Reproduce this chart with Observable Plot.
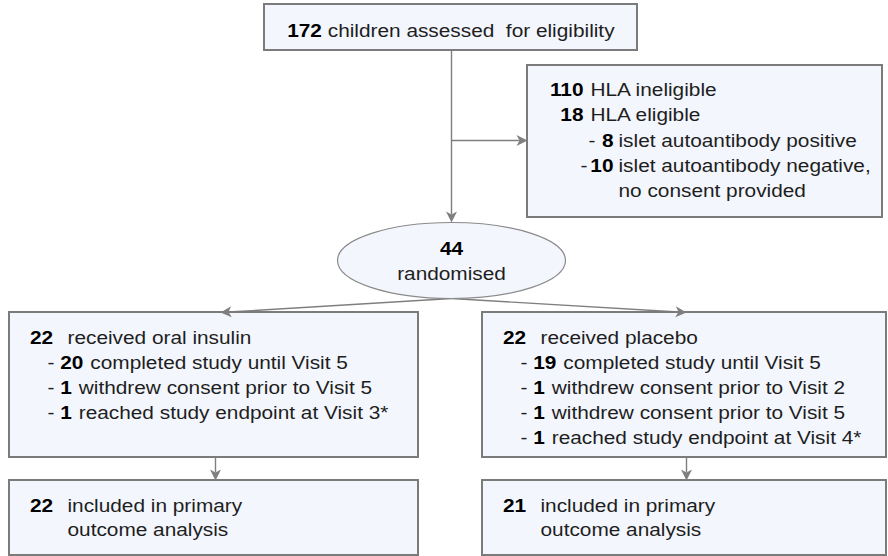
<!DOCTYPE html>
<html><head><meta charset="utf-8">
<script src="https://cdn.jsdelivr.net/npm/d3@7"></script>
<script src="https://cdn.jsdelivr.net/npm/@observablehq/plot@0.6"></script>
<style>html,body{margin:0;padding:0;background:#fff;}</style>
</head><body><div id="chart"></div>
<script>
// ---------- DATA (content of the flow diagram) ----------
const screenedN = "172";
const screenedLabel = "children assessed\u00a0 for eligibility";
const exclusionN = ["110", "18", "8", "10", ""];
const exclusionLabels = ["HLA ineligible", "HLA eligible", "islet autoantibody positive", "islet autoantibody negative,", "no consent provided"];
const exclusionLevel = [0, 0, 1, 1, 1];
const exclusionDash = [false, false, true, true, false];
const randomisedN = "44";
const randomisedLabel = "randomised";
const armLabels = ["received oral insulin", "received placebo"];
const armN = ["22", "22"];
const insulinN = ["20", "1", "1"];
const insulinLabels = ["completed study until Visit 5", "withdrew consent prior to Visit 5", "reached study endpoint at Visit 3*"];
const placeboN = ["19", "1", "1", "1"];
const placeboLabels = ["completed study until Visit 5", "withdrew consent prior to Visit 2", "withdrew consent prior to Visit 5", "reached study endpoint at Visit 4*"];
const analysedN = ["22", "21"];
const analysedLabels = ["included in primary", "outcome analysis"];

// ---------- LAYOUT / STYLE ----------
const W = 888, H = 556;
const FS = 17.5, SX = 1.19;           // font size and horizontal stretch of text
const FONT = '"Liberation Sans", Arial, sans-serif';
const BOX_FILL = "#f3f6fd", BOX_STROKE = "#7b7b7b", LINE = "#7f7f7f";
const boxes = [
  {id: "screen", x1: 264, x2: 637, y1: 4, y2: 50},
  {id: "excl", x1: 527, x2: 882, y1: 65, y2: 217},
  {id: "armL", x1: 9, x2: 418, y1: 312, y2: 457},
  {id: "armR", x1: 482, x2: 886, y1: 312, y2: 457},
  {id: "anaL", x1: 9, x2: 418, y1: 480, y2: 555},
  {id: "anaR", x1: 482, x2: 886, y1: 480, y2: 555}
];
const B = Object.fromEntries(boxes.map(b => [b.id, b]));
const ell = {cx: 451, cy: 260, rx: 114, ry: 38};
const arrows = [
  {x1: 451, y1: 50, x2: 451, y2: 222},
  {x1: 451, y1: 140, x2: 527, y2: 140},
  {x1: 451, y1: 298, x2: 220, y2: 312},
  {x1: 451, y1: 298, x2: 686, y2: 312},
  {x1: 215, y1: 457, x2: 215, y2: 480},
  {x1: 686, y1: 457, x2: 686, y2: 480}
];
const HEAD_L = 11, HEAD_W = 5.5, HEAD_NOTCH = 8;
const exclDashOffset = [0, 0, 61, 53, 0];

// ---------- text measuring ----------
const cctx = document.createElement("canvas").getContext("2d");
function tw(s, bold) { cctx.font = `${bold ? "bold " : ""}${FS}px "Liberation Sans"`; return cctx.measureText(s).width * SX; }
const SP = tw(" ", false);

const pieces = [];
function put(x, y, text, bold, anchor) { if (text !== "") pieces.push({x, y, text, bold, anchor}); }

// screening box (centered line)
{
  const b = B.screen, cx = (b.x1 + b.x2) / 2;
  const total = tw(screenedN, true) + SP + tw(screenedLabel, false);
  const x0 = cx - total / 2;
  put(x0, 31, screenedN, true, "start");
  put(x0 + tw(screenedN, true) + SP, 31, screenedLabel, false, "start");
}
// exclusion box
{
  const b = B.excl, ys = [90, 115, 141, 166, 191];
  exclusionLabels.forEach((lab, i) => {
    const y = ys[i];
    if (exclusionLevel[i] === 0) {
      put(b.x1 + 56, y, exclusionN[i], true, "end");
      put(b.x1 + 63, y, lab, false, "start");
    } else {
      if (exclusionDash[i]) put(b.x1 + exclDashOffset[i], y, "-", false, "start");
      put(b.x1 + 86, y, exclusionN[i], true, "end");
      put(b.x1 + 91, y, lab, false, "start");
    }
  });
}
// ellipse
put(ell.cx, 249, randomisedN, true, "middle");
put(ell.cx, 274, randomisedLabel, false, "middle");
// arm boxes
[[B.armL, insulinN, insulinLabels], [B.armR, placeboN, placeboLabels]].forEach(([b, ns, labs], k) => {
  const y0 = 337.5, dy = 25.2;
  put(b.x1 + 20.5, y0, armN[k], true, "start");
  put(b.x1 + 58, y0, armLabels[k], false, "start");
  labs.forEach((lab, i) => {
    const y = y0 + dy * (i + 1);
    const xd = b.x1 + 38;
    put(xd, y, "-", false, "start");
    const xn = xd + tw("-", false) + SP;
    put(xn, y, ns[i], true, "start");
    put(xn + tw(ns[i], true) + SP * 1.2, y, lab, false, "start");
  });
});
// analysis boxes
[B.anaL, B.anaR].forEach((b, k) => {
  put(b.x1 + 20.5, 506, analysedN[k], true, "start");
  analysedLabels.forEach((lab, i) => put(b.x1 + 58, 506 + 24 * i, lab, false, "start"));
});

// ---------- symbols ----------
const ellipseSymbol = {draw(c) {
  const rx = ell.rx, ry = ell.ry, k = 0.5523;
  c.moveTo(rx, 0);
  c.bezierCurveTo(rx, ry * k, rx * k, ry, 0, ry);
  c.bezierCurveTo(-rx * k, ry, -rx, ry * k, -rx, 0);
  c.bezierCurveTo(-rx, -ry * k, -rx * k, -ry, 0, -ry);
  c.bezierCurveTo(rx * k, -ry, rx, -ry * k, rx, 0);
  c.closePath();
}};
function headSymbol(a) {
  const cs = Math.cos(a), sn = Math.sin(a);
  const R = (px, py) => [px * cs - py * sn, px * sn + py * cs];
  const pts = [R(0, 0), R(-HEAD_L, -HEAD_W), R(-HEAD_NOTCH, 0), R(-HEAD_L, HEAD_W)];
  return {draw(c) { c.moveTo(...pts[0]); for (let i = 1; i < pts.length; i++) c.lineTo(...pts[i]); c.closePath(); }};
}
const lines = arrows.map(a => {
  const ang = Math.atan2(a.y2 - a.y1, a.x2 - a.x1);
  return {x1: a.x1, y1: a.y1, x2: a.x2 - HEAD_NOTCH * Math.cos(ang), y2: a.y2 - HEAD_NOTCH * Math.sin(ang), ang, tx: a.x2, ty: a.y2};
});

// ---------- marks ----------
const marks = [
  Plot.link(lines, {x1: "x1", y1: "y1", x2: "x2", y2: "y2", stroke: LINE, strokeWidth: 1.4}),
  Plot.rect(boxes, {x1: "x1", x2: "x2", y1: "y1", y2: "y2", fill: BOX_FILL, stroke: BOX_STROKE, strokeWidth: 2}),
  Plot.dot([ell], {x: "cx", y: "cy", r: 1, symbol: ellipseSymbol, fill: BOX_FILL, stroke: "#8a8a8a", strokeWidth: 1.2}),
  ...lines.map(l => Plot.dot([l], {x: "tx", y: "ty", r: 1, symbol: headSymbol(l.ang), fill: LINE, stroke: "none"}))
];
for (const bold of [true, false]) for (const anchor of ["start", "middle", "end"]) {
  const sub = pieces.filter(p => p.bold === bold && p.anchor === anchor);
  if (!sub.length) continue;
  marks.push(Plot.text(sub, {x: "x", y: "y", text: "text", textAnchor: anchor, fontWeight: bold ? "bold" : "normal",
    fontSize: FS, fontFamily: FONT, fill: bold ? "#000" : "#1e1e1e"}));
}

const svg = Plot.plot({
  width: W, height: H, margin: 0,
  x: {domain: [0, W], range: [0, W], axis: null},
  y: {domain: [0, H], range: [0, H], axis: null},
  style: {fontFamily: FONT, background: "#fff", overflow: "visible"},
  marks
});
// horizontal stretch of text around its anchor point
const num = v => (v != null && /^-?[\d.]+$/.test(v.trim())) ? +v : 0;
svg.querySelectorAll("text").forEach(t => {
  const tr = t.getAttribute("transform") || "";
  const x = num(t.getAttribute("x")), y = num(t.getAttribute("y"));
  t.setAttribute("transform", `${tr} translate(${x},${y}) scale(${SX},1) translate(${-x},${-y})`.trim());
});
document.getElementById("chart").appendChild(svg);
</script></body></html>
